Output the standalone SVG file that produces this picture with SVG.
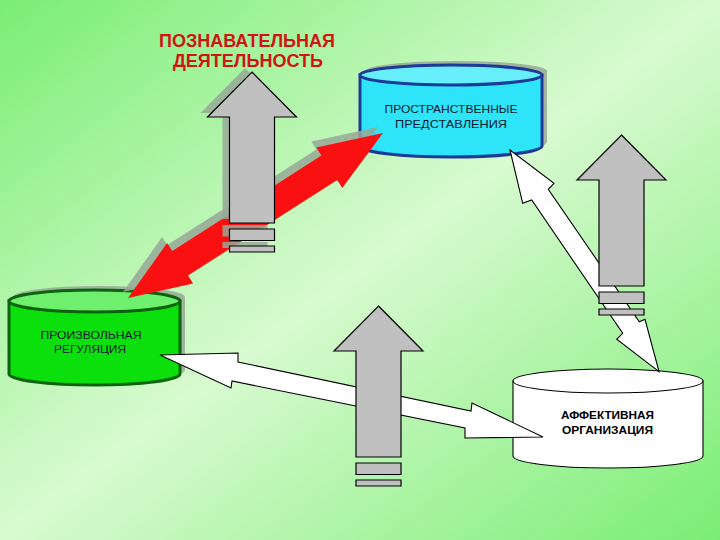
<svg xmlns="http://www.w3.org/2000/svg" width="720" height="540" viewBox="0 0 720 540">
<defs>
<linearGradient id="bg" x1="0" y1="0" x2="1" y2="1">
<stop offset="0" stop-color="#7aee74"/>
<stop offset="0.5" stop-color="#d8fad0"/>
<stop offset="1" stop-color="#7aee74"/>
</linearGradient>
<path id="up" d="M0,0 L44.5,45 L22.5,45 L22.5,151 L-22.5,151 L-22.5,45 L-44.5,45 Z M-22.5,157 H22.5 V168.5 H-22.5 Z M-22.5,174 H22.5 V180 H-22.5 Z"/>
<style>
.lbl{font-family:"Liberation Sans",Arial,sans-serif;text-anchor:middle}
.t{font-size:11px;fill:#101830}
.title{font-size:17.5px;font-weight:bold;fill:#d01414}
.shadow{fill:#98a898;opacity:0.85}
.upa{fill:#c0c0c0;stroke:#000;stroke-width:1.2}
.wa{fill:#ffffff;stroke:#000;stroke-width:1.1;stroke-linejoin:miter}
</style>
</defs>
<rect width="720" height="540" fill="url(#bg)"/>

<g id="title">
<text class="lbl title" x="247" y="47" textLength="176" lengthAdjust="spacingAndGlyphs">ПОЗНАВАТЕЛЬНАЯ</text>
<text class="lbl title" x="248" y="67" textLength="150" lengthAdjust="spacingAndGlyphs">ДЕЯТЕЛЬНОСТЬ</text>
</g>

<g id="node-spatial">
<path class="shadow" d="M365,71 L365,142 A91,11 0 0 0 547,142 L547,71 A91,10 0 0 0 365,71 Z"/>
<path d="M360,75 L360,146 A91,11 0 0 0 542,146 L542,75 Z" fill="#2ee4f8" stroke="#1c3a98" stroke-width="3"/>
<ellipse cx="451" cy="75" rx="91" ry="10" fill="#66eefa" stroke="#1c3a98" stroke-width="3"/>
<text class="lbl t" x="451" y="113" textLength="133" lengthAdjust="spacingAndGlyphs">ПРОСТРАНСТВЕННЫЕ</text>
<text class="lbl t" x="451" y="127.5" textLength="112" lengthAdjust="spacingAndGlyphs">ПРЕДСТАВЛЕНИЯ</text>
</g>

<g id="node-regulation">
<path class="shadow" d="M13,297 L13,370 A86,11 0 0 0 185,370 L185,297 A86,11 0 0 0 13,297 Z"/>
<path d="M9,301 L9,374 A85.5,11 0 0 0 180,374 L180,301 Z" fill="#0ce00c" stroke="#0c640c" stroke-width="3"/>
<ellipse cx="94.5" cy="301" rx="85.5" ry="11" fill="#6ef06e" stroke="#0c640c" stroke-width="3"/>
<text class="lbl t" x="91" y="338.5" textLength="101" lengthAdjust="spacingAndGlyphs">ПРОИЗВОЛЬНАЯ</text>
<text class="lbl t" x="90" y="352.7" textLength="72" lengthAdjust="spacingAndGlyphs">РЕГУЛЯЦИЯ</text>
</g>

<g id="node-affective">
<path d="M513,381 L513,456 A95,12 0 0 0 703,456 L703,381 Z" fill="#ffffff" stroke="#000" stroke-width="1.1"/>
<ellipse cx="608" cy="381" rx="95" ry="12" fill="#ffffff" stroke="#000" stroke-width="1.1"/>
<text class="lbl t" x="607.5" y="419" font-weight="bold" style="fill:#000" textLength="93" lengthAdjust="spacingAndGlyphs">АФФЕКТИВНАЯ</text>
<text class="lbl t" x="607.5" y="434" font-weight="bold" style="fill:#000" textLength="91" lengthAdjust="spacingAndGlyphs">ОРГАНИЗАЦИЯ</text>
</g>

<g id="connectors">
<polygon class="shadow" transform="translate(-5,-6)" points="128,298 193.1,283.6 188.0,275.6 337.2,180.0 342.3,188.1 383,133 316.3,147.5 321.4,155.5 172.2,251.1 167.1,243.1"/>
<polygon fill="#fa1010" points="128,298 193.1,283.6 188.0,275.6 337.2,180.0 342.3,188.1 383,133 316.3,147.5 321.4,155.5 172.2,251.1 167.1,243.1"/>
<polygon class="wa" points="160,355 238,353 238,362 471,411 472,403 543,437 465,438 465,428 232,381 231,388"/>
<polygon class="wa" points="510,150 554,183.3 548.3,189.3 639.3,321.7 645,319.3 659,371.7 616.7,339.3 622.7,333.3 531.7,200 522.7,203.3"/>
</g>

<g id="up-arrows">
<use href="#up" class="shadow" x="245" y="68"/>
<use href="#up" class="upa" x="252" y="72"/>
<use href="#up" class="upa" x="378.5" y="306"/>
<use href="#up" class="upa" x="621.5" y="135"/>
</g>
</svg>
